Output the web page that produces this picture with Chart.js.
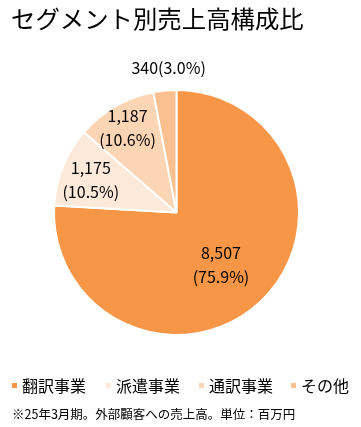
<!DOCTYPE html>
<html lang="ja">
<head>
<meta charset="utf-8">
<script src="https://cdn.jsdelivr.net/npm/chart.js@4"></script>
<style>
html,body{margin:0;padding:0;background:#fff;}
body{width:361px;height:427px;position:relative;overflow:hidden;font-family:"Noto Sans CJK JP","Noto Sans",sans-serif;color:#000;}
#title{position:absolute;left:11px;top:1px;font-size:24.4px;line-height:34px;white-space:nowrap;}
#wrap{position:absolute;left:0;top:0;width:361px;height:427px;}
.leg{position:absolute;top:375px;font-size:16px;line-height:20px;white-space:nowrap;}
.leg i{position:absolute;left:0;top:8px;width:5px;height:5px;}
.leg span{position:absolute;left:10px;top:0;}
#note{position:absolute;left:12px;top:405px;font-size:12.5px;line-height:18px;white-space:nowrap;}
</style>
</head>
<body>
<div id="wrap"><canvas id="pie" width="361" height="427"></canvas></div>
<div id="title">セグメント別売上高構成比</div>
<div id="legend"></div>
<div id="note">※25年3月期。外部顧客への売上高。単位：百万円</div>
<script>
const segments = ["翻訳事業","派遣事業","通訳事業","その他"]
const sales = [8507,1175,1187,340]
const shares = ["75.9%","10.5%","10.6%","3.0%"]
const colors = ["#F79646","#FDE9D9","#FCD5B4","#FAC090"]

// legend (html)
const legX = [12,106,199,291]
const legend = document.getElementById("legend")
segments.forEach((s,i)=>{
const d = document.createElement("div")
d.className = "leg"
d.style.left = legX[i]+"px"
d.innerHTML = `<i style="background:${colors[i]}"></i><span>${s}</span>`
legend.appendChild(d)
})

// label placement: radius factor, angle nudge (deg), one line or two
const labelPlace = [
{r:0.56,a:3,inline:false},
{r:0.75,a:-1,inline:false},
{r:0.80,a:0,inline:false},
{r:1.19,a:0,inline:true}
]

const labelPlugin = {
id:"sliceLabels",
afterDatasetsDraw(chart){
const c = chart.ctx
const meta = chart.getDatasetMeta(0)
c.save()
c.fillStyle = "#000"
c.font = '16px "Noto Sans CJK JP", "Noto Sans", sans-serif'
c.textAlign = "center"
c.textBaseline = "middle"
meta.data.forEach((arc,i)=>{
const p = labelPlace[i]
const mid = (arc.startAngle + arc.endAngle)/2 + p.a*Math.PI/180
const x = arc.x + Math.cos(mid)*arc.outerRadius*p.r
const y = arc.y + Math.sin(mid)*arc.outerRadius*p.r
const v = sales[i].toLocaleString("en-US")
if(p.inline){
c.fillText(`${v}(${shares[i]})`,x+6,y+1)
}else{
c.fillText(v,x,y-12)
c.fillText(`(${shares[i]})`,x,y+12)
}
})
c.restore()
}
}

new Chart(document.getElementById("pie"),{
type:"pie",
data:{
labels:segments,
datasets:[{
data:sales,
backgroundColor:colors,
borderColor:"#ffffff",
borderWidth:2
}]
},
options:{
responsive:false,
animation:false,
layout:{padding:{left:53,top:89,right:61,bottom:91}},
plugins:{
legend:{display:false},
tooltip:{enabled:false}
}
},
plugins:[labelPlugin]
})
</script>
</body>
</html>
